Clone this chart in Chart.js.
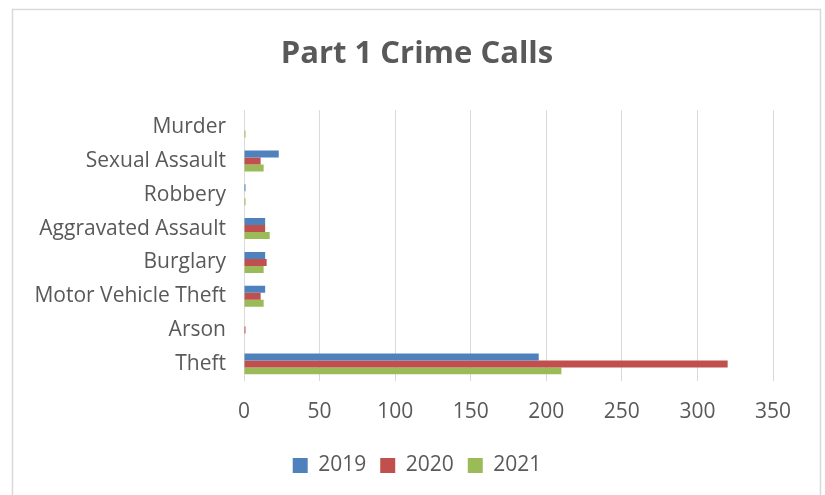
<!DOCTYPE html>
<html>
<head>
<meta charset="utf-8">
<script src="https://cdn.jsdelivr.net/npm/chart.js@4.4.0/dist/chart.umd.min.js"></script>
<style>
html,body{margin:0;padding:0;background:#fff;}
#wrap{position:absolute;left:0;top:0;width:825px;height:495px;}
</style>
</head>
<body>
<div id="wrap"><canvas id="c" width="825" height="495"></canvas></div>
<script>
const categories = ["Murder","Sexual Assault","Robbery","Aggravated Assault","Burglary","Motor Vehicle Theft","Arson","Theft"];
const seriesNames = ["2019","2020","2021"];
const values2019 = [0, 23, 1, 14, 14, 14, 0, 195];
const values2020 = [0, 11, 0, 14, 15, 11, 1, 320];
const values2021 = [1, 13, 1, 17, 13, 13, 0, 210];
const xTicks = [0, 50, 100, 150, 200, 250, 300, 350];

const FONT = "'Open Sans', sans-serif";
const TXT = "#595959";

const borderPlugin = {
  id: 'outerBorder',
  beforeDraw(chart) {
    const ctx = chart.ctx;
    ctx.save();
    ctx.fillStyle = '#fff';
    ctx.fillRect(0, 0, chart.width, chart.height);
    ctx.strokeStyle = '#d9d9d9';
    ctx.lineWidth = 1.5;
    ctx.strokeRect(12.5, 9.5, 808, 520);
    ctx.restore();
  }
};

new Chart(document.getElementById('c'), {
  type: 'bar',
  data: {
    labels: categories,
    datasets: [
      { label: seriesNames[0], data: values2019, backgroundColor: '#4F81BD' },
      { label: seriesNames[1], data: values2020, backgroundColor: '#C0504D' },
      { label: seriesNames[2], data: values2021, backgroundColor: '#9BBB59' }
    ]
  },
  options: {
    indexAxis: 'y',
    responsive: false,
    animation: false,
    devicePixelRatio: 1,
    datasets: { bar: { categoryPercentage: 0.62, barPercentage: 1.0 } },
    layout: { padding: { top: 28, left: 9, right: 0, bottom: 9 } },
    plugins: {
      title: {
        display: true,
        text: 'Part 1 Crime Calls',
        color: TXT,
        font: { family: FONT, size: 31, weight: 'bold' },
        padding: { top: 8, bottom: 37 }
      },
      legend: {
        position: 'bottom',
        labels: {
          color: TXT,
          font: { family: FONT, size: 21 },
          boxWidth: 15,
          boxHeight: 15,
          padding: 14
        }
      },
      tooltip: { enabled: false }
    },
    scales: {
      x: {
        min: 0,
        max: 350,
        afterBuildTicks(scale) { scale.ticks = xTicks.map(v => ({ value: v })); },
        afterFit(scale) { scale.height -= 3; scale.paddingRight = 52; },
        grid: { color: '#d9d9d9', lineWidth: 1, drawTicks: false },
        border: { display: false },
        ticks: { color: TXT, font: { family: FONT, size: 21 }, padding: 19, maxRotation: 0 }
      },
      y: {
        afterFit(scale) { scale.width = 235; },
        grid: { display: false, drawTicks: false },
        border: { display: false },
        ticks: { color: TXT, font: { family: FONT, size: 21 }, padding: 18, autoSkip: false }
      }
    }
  },
  plugins: [borderPlugin]
});
</script>
</body>
</html>
